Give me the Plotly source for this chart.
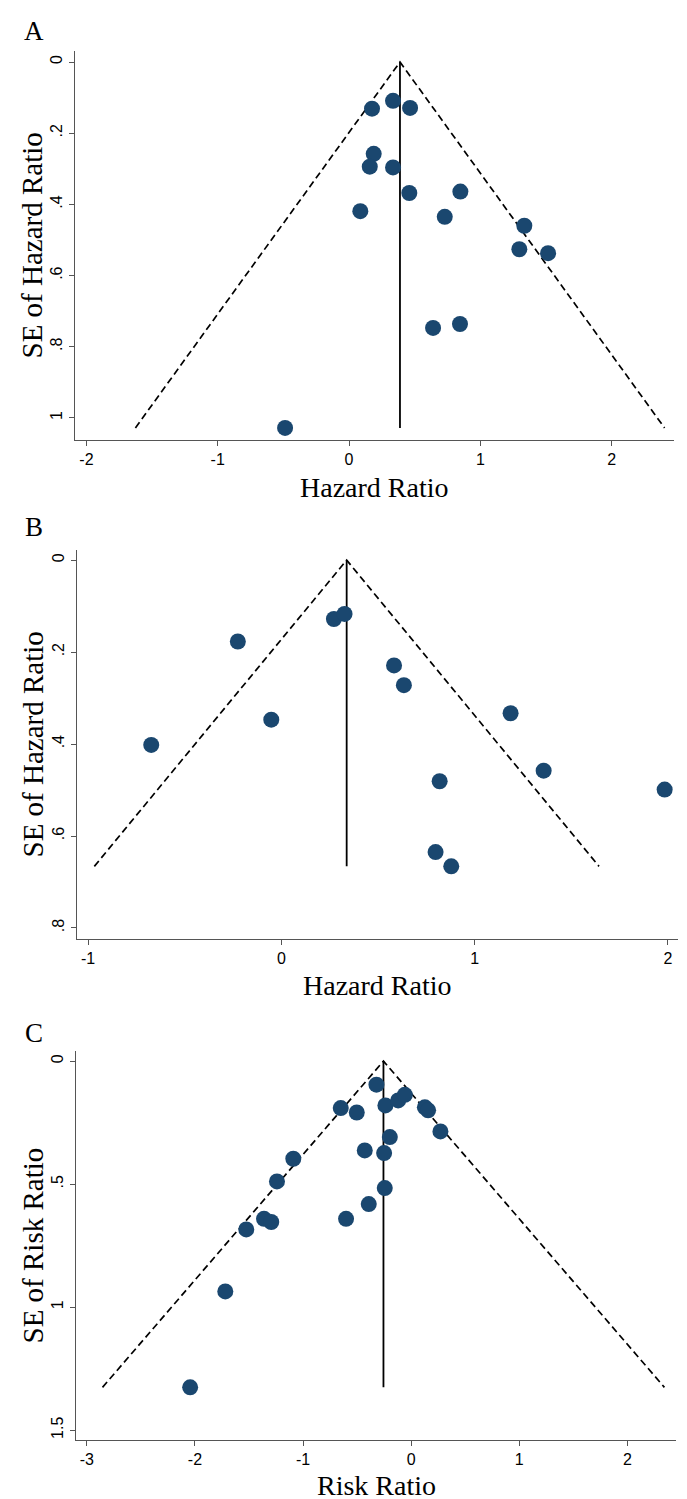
import plotly.graph_objects as go

W, H = 687, 1499

# Panel A: Hazard Ratio (log) vs SE
a_hr = [0.175, 0.335, 0.465, 0.188, 0.158, 0.335, 0.459, 0.848, 0.086, 0.729,
        1.335, 1.297, 1.516, 0.640, 0.845, -0.487]
a_se = [0.131, 0.109, 0.129, 0.258, 0.294, 0.296, 0.368, 0.364, 0.419, 0.435,
        0.460, 0.526, 0.537, 0.747, 0.736, 1.028]
a_pooled = 0.388

# Panel B
b_hr = [0.272, 0.327, -0.225, -0.052, -0.673, 0.583, 0.634, 1.186, 1.357, 0.819,
        1.983, 0.798, 0.879]
b_se = [0.128, 0.117, 0.177, 0.347, 0.402, 0.229, 0.272, 0.333, 0.458, 0.481,
        0.499, 0.635, 0.666]
b_pooled = 0.338

# Panel C: Risk Ratio
c_rr = [-0.321, -0.651, -0.503, -0.238, -0.120, -0.058, 0.127, 0.157, 0.271, -0.197,
        -0.429, -0.250, -1.090, -1.241, -0.244, -0.392, -0.602, -1.361, -1.294, -1.525,
        -1.719, -2.044]
c_se = [0.096, 0.191, 0.209, 0.180, 0.160, 0.137, 0.188, 0.200, 0.286, 0.309,
        0.363, 0.374, 0.397, 0.489, 0.516, 0.581, 0.641, 0.641, 0.654, 0.684,
        0.936, 1.326]
c_pooled = -0.256

a_xticks = [-2, -1, 0, 1, 2]
a_yticks = [0, 0.2, 0.4, 0.6, 0.8, 1]
a_ylabels = ["0", ".2", ".4", ".6", ".8", "1"]
b_xticks = [-1, 0, 1, 2]
b_yticks = [0, 0.2, 0.4, 0.6, 0.8]
b_ylabels = ["0", ".2", ".4", ".6", ".8"]
c_xticks = [-3, -2, -1, 0, 1, 2]
c_yticks = [0, 0.5, 1, 1.5]
c_ylabels = ["0", ".5", "1", "1.5"]

MARK = "#1a476f"
AXC = "#555555"
SERIF = "Liberation Serif, Times New Roman, serif"

# plot-area pixel boxes (left, right, top, bottom)
boxes = [(67, 666, 43, 432), (69, 670, 542, 931), (68, 668, 1043, 1432)]
xranges = [[-2.087, 2.475], [-1.057, 2.052], [-3.10, 2.45]]
yranges = [[1.062, -0.031], [0.824, -0.022], [1.54, -0.041]]

panels = [
    (a_hr, a_se, a_pooled, a_xticks, a_yticks, a_ylabels, "Hazard Ratio", "SE of Hazard Ratio", "A"),
    (b_hr, b_se, b_pooled, b_xticks, b_yticks, b_ylabels, "Hazard Ratio", "SE of Hazard Ratio", "B"),
    (c_rr, c_se, c_pooled, c_xticks, c_yticks, c_ylabels, "Risk Ratio", "SE of Risk Ratio", "C"),
]
xtitle_y = [479, 977, 1477]
letter_y = [23, 519, 1025]

fig = go.Figure()
layout = dict(width=W, height=H, margin=dict(l=0, r=0, t=0, b=0),
              paper_bgcolor="white", plot_bgcolor="white", showlegend=False,
              annotations=[])

for i, (xs, ses, pooled, xt, yt, yl, xtitle, ytitle, letter) in enumerate(panels):
    n = "" if i == 0 else str(i + 1)
    xa, ya = "x" + n, "y" + n
    semax = max(ses)
    # funnel (pseudo 95% CI)
    fig.add_trace(go.Scatter(
        x=[pooled - 1.96 * semax, pooled, pooled + 1.96 * semax],
        y=[semax, 0, semax], mode="lines",
        line=dict(color="black", width=1.7, dash="7px,4px"),
        xaxis=xa, yaxis=ya, hoverinfo="skip"))
    # pooled estimate line
    fig.add_trace(go.Scatter(
        x=[pooled, pooled], y=[0, semax], mode="lines",
        line=dict(color="black", width=1.8),
        xaxis=xa, yaxis=ya, hoverinfo="skip"))
    fig.add_trace(go.Scatter(
        x=xs, y=ses, mode="markers",
        marker=dict(color=MARK, size=16, line=dict(width=0)),
        xaxis=xa, yaxis=ya))

    l, r, t, b = boxes[i]
    common = dict(showline=True, linecolor=AXC, linewidth=1.4, ticks="outside",
                  ticklen=5, tickwidth=1.3, tickcolor=AXC, showgrid=False,
                  zeroline=False, mirror=False,
                  tickfont=dict(family="Liberation Sans, Arial", size=16, color="black"))
    layout["xaxis" + n] = dict(common, domain=[l / W, r / W], range=xranges[i],
                               tickvals=xt, ticktext=[str(v) for v in xt],
                               anchor=ya, fixedrange=True)
    layout["yaxis" + n] = dict(common, domain=[1 - b / H, 1 - t / H], range=yranges[i],
                               tickvals=yt, ticktext=yl, tickangle=-90,
                               anchor=xa, fixedrange=True)
    layout["annotations"].append(dict(
        text=xtitle, xref="paper", yref="paper", x=(l + r) / 2 / W, y=1 - xtitle_y[i] / H,
        showarrow=False, xanchor="center", yanchor="middle",
        font=dict(family=SERIF, size=28, color="black")))
    layout["annotations"].append(dict(
        text=ytitle, xref="paper", yref="paper", x=24 / W, y=1 - (t + b) / 2 / H,
        showarrow=False, xanchor="center", yanchor="middle", textangle=-90,
        font=dict(family=SERIF, size=29, color="black")))
    layout["annotations"].append(dict(
        text=letter, xref="paper", yref="paper", x=26 / W, y=1 - letter_y[i] / H,
        showarrow=False, xanchor="center", yanchor="middle",
        font=dict(family=SERIF, size=27, color="black")))

fig.update_layout(**layout)
fig.write_html("out.html")
